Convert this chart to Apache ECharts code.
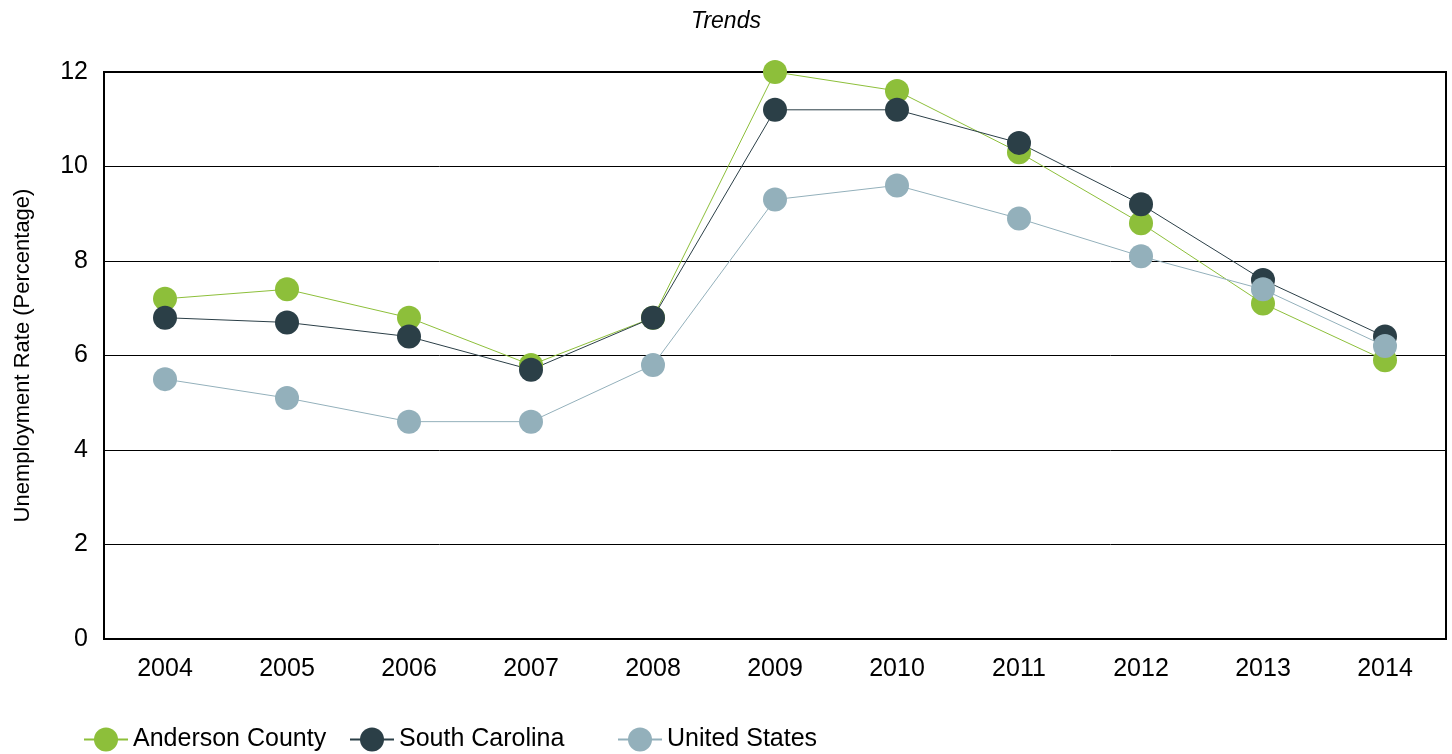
<!DOCTYPE html>
<html><head><meta charset="utf-8">
<script src="https://cdn.jsdelivr.net/npm/echarts@6/dist/echarts.min.js"></script>
<style>html,body{margin:0;padding:0;background:#fff}#c{width:1452px;height:754px}</style>
</head><body><div id="c"></div>
<script>
const years = ['2004','2005','2006','2007','2008','2009','2010','2011','2012','2013','2014'];
const anderson = [7.2, 7.4, 6.8, 5.8, 6.8, 12.0, 11.6, 10.3, 8.8, 7.1, 5.9];
const southCarolina = [6.8, 6.7, 6.4, 5.7, 6.8, 11.2, 11.2, 10.5, 9.2, 7.6, 6.4];
const unitedStates = [5.5, 5.1, 4.6, 4.6, 5.8, 9.3, 9.6, 8.9, 8.1, 7.4, 6.2];
const names = ['Anderson County', 'South Carolina', 'United States'];
const colors = ['#8dbf3a', '#2b3f47', '#93b0bb'];
const font = 'Liberation Sans, Arial, sans-serif';
const chart = echarts.init(document.getElementById('c'));
function s(name, data, color) {
  return {name, type:'line', data, symbol:'circle', symbolSize:24,
    lineStyle:{width:1, color}, itemStyle:{color}, animation:false};
}
function lg(i, left) {
  return {left, top:727, itemWidth:44, itemHeight:30, padding:0,
    textStyle:{fontFamily:font, fontSize:25, color:'#000'},
    data:[{name:names[i]}]};
}
chart.setOption({
  animation:false,
  title:{text:'Trends', left:'center', top:5, textStyle:{fontFamily:font, fontStyle:'italic', fontWeight:'normal', fontSize:23, color:'#000'}},
  grid:{left:104, right:6, top:72, bottom:115, show:true, borderColor:'#000', borderWidth:2},
  legend:[lg(0, 83), lg(1, 349), lg(2, 617)],
  xAxis:{type:'category', data:years, boundaryGap:true,
    axisLine:{lineStyle:{color:'#000', width:2}}, axisTick:{show:false},
    axisLabel:{fontFamily:font, fontSize:25, color:'#000', margin:18}},
  yAxis:{type:'value', min:0, max:12, interval:2,
    name:'Unemployment Rate (Percentage)', nameLocation:'middle', nameGap:70,
    nameTextStyle:{fontFamily:font, fontSize:22, color:'#000'},
    axisLine:{show:true, lineStyle:{color:'#000', width:2}}, axisTick:{show:false},
    splitLine:{lineStyle:{color:'#000', width:1}},
    axisLabel:{fontFamily:font, fontSize:25, color:'#000', margin:16}},
  series:[s(names[0], anderson, colors[0]), s(names[1], southCarolina, colors[1]), s(names[2], unitedStates, colors[2])]
});
</script></body></html>
